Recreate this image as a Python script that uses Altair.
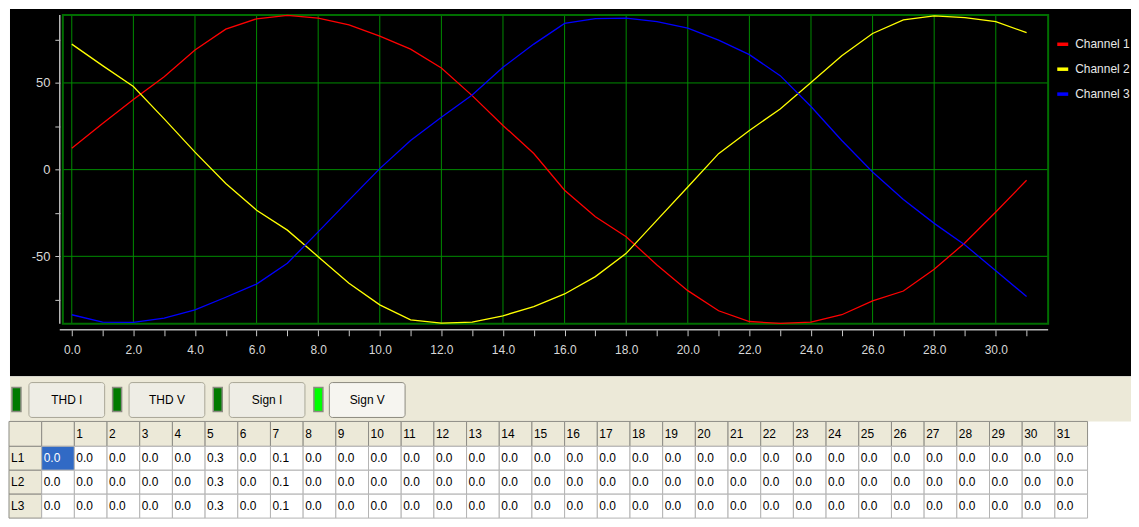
import altair as alt
import pandas as pd

# ---------------- data ----------------
harmonics = list(range(32))
channel_names = ["Channel 1", "Channel 2", "Channel 3"]
channel_colors = ["#FF0000", "#FFFF00", "#0000FF"]

channel_1 = [12.4, 26.6, 40.4, 53.6, 69.0, 81.0, 87.0, 89.0, 87.4, 83.5, 77.0, 69.5,
             58.6, 42.7, 25.5, 9.3, -11.9, -27.2, -38.7, -55.0, -69.8, -81.4, -87.6,
             -88.7, -88.0, -83.7, -75.7, -70.0, -57.5, -42.2, -24.4, -6.1]
channel_2 = [72.4, 60.0, 47.9, 29.3, 10.1, -8.0, -23.4, -34.9, -50.2, -65.5, -78.0, -86.6,
             -88.5, -88.0, -84.3, -79.0, -71.7, -61.7, -48.3, -29.1, -10.0, 9.2, 22.6,
             35.0, 50.3, 65.7, 78.5, 86.4, 88.7, 87.7, 85.4, 79.0]
channel_3 = [-83.7, -88.0, -88.1, -85.6, -80.9, -73.6, -66.0, -54.0, -35.9, -17.6, 0.6, 16.8,
             30.2, 43.0, 59.0, 72.4, 84.3, 87.1, 87.4, 85.4, 81.6, 74.7, 66.3,
             54.2, 36.4, 16.8, -1.4, -17.2, -31.0, -43.5, -58.3, -73.2]

x_grid = [0, 2, 4, 6, 8, 10, 12, 14, 16, 18, 20, 22, 24, 26, 28, 30]
y_grid = [-50, 0, 50]
y_ticks = [-75, -50, -25, 0, 25, 50, 75]

button_labels = ["THD I", "THD V", "Sign I", "Sign V"]
button_on = [False, False, False, True]

row_labels = ["L1", "L2", "L3"]
thd_L1 = [0.0, 0.0, 0.0, 0.0, 0.0, 0.3, 0.0, 0.1, 0.0, 0.0, 0.0, 0.0, 0.0, 0.0, 0.0, 0.0,
          0.0, 0.0, 0.0, 0.0, 0.0, 0.0, 0.0, 0.0, 0.0, 0.0, 0.0, 0.0, 0.0, 0.0, 0.0, 0.0]
thd_L2 = [0.0, 0.0, 0.0, 0.0, 0.0, 0.3, 0.0, 0.1, 0.0, 0.0, 0.0, 0.0, 0.0, 0.0, 0.0, 0.0,
          0.0, 0.0, 0.0, 0.0, 0.0, 0.0, 0.0, 0.0, 0.0, 0.0, 0.0, 0.0, 0.0, 0.0, 0.0, 0.0]
thd_L3 = [0.0, 0.0, 0.0, 0.0, 0.0, 0.3, 0.0, 0.1, 0.0, 0.0, 0.0, 0.0, 0.0, 0.0, 0.0, 0.0,
          0.0, 0.0, 0.0, 0.0, 0.0, 0.0, 0.0, 0.0, 0.0, 0.0, 0.0, 0.0, 0.0, 0.0, 0.0, 0.0]

# ---------------- layout / style ----------------
FONT = "Liberation Sans, Arial, sans-serif"
W = 1125
H_TOP = 369
H_BOT = 142

X_DOM = [-2.006, 34.39]
Y_DOM = [-119.37, 92.70]
FX0, FX1, FY0, FY1 = -0.29, 31.70, -88.91, 89.25   # plot frame
AX_X = -0.39      # y-axis line position
AX_Y = -92.36     # x-axis line position

xs = alt.Scale(domain=X_DOM, nice=False, zero=False)
ys = alt.Scale(domain=Y_DOM, nice=False, zero=False)

X_AX = alt.Axis(values=harmonics, title=None, domain=False, grid=False,
                labelExpr="datum.value % 2 == 0 ? format(datum.value, '.1f') : ''",
                tickColor="#C8C8C8", tickSize=6, labelColor="#D8D8D8",
                labelFont=FONT, labelFontSize=12, labelPadding=9,
                labelOverlap=False, labelFlush=False, offset=-47, orient="bottom")
Y_AX = alt.Axis(values=y_ticks, title=None, domain=False, grid=False,
                labelExpr="datum.value % 50 == 0 ? '' + datum.value : ''",
                tickColor="#C8C8C8", tickSize=5, labelColor="#D8D8D8",
                labelFont=FONT, labelFontSize=13, labelPadding=5,
                labelOverlap=False, labelFlush=False, offset=-50, orient="left")

# ---------------- top panel ----------------
vgrid = pd.DataFrame({"x": x_grid, "y0": FY0, "y1": FY1})
hgrid = pd.DataFrame({"y": y_grid, "x0": FX0, "x1": FX1})
frame = pd.DataFrame({"x0": [FX0], "x1": [FX1], "y0": [FY0], "y1": [FY1]})
axis_lines = pd.DataFrame({"x0": [AX_X, AX_X], "x1": [FX1, AX_X],
                           "y0": [AX_Y, FY0], "y1": [AX_Y, FY1]})

rows = []
for name, vals in zip(channel_names, [channel_1, channel_2, channel_3]):
    for h, v in zip(harmonics, vals):
        rows.append({"x": h, "value": v, "channel": name})
lines_df = pd.DataFrame(rows)

vgrid_l = alt.Chart(vgrid).mark_rule(color="#008C00", strokeWidth=1).encode(
    x=alt.X("x:Q", scale=xs, axis=X_AX),
    y=alt.Y("y0:Q", scale=ys, axis=Y_AX), y2="y1:Q")
hgrid_l = alt.Chart(hgrid).mark_rule(color="#008C00", strokeWidth=1).encode(
    x=alt.X("x0:Q", scale=xs, axis=X_AX), x2="x1:Q",
    y=alt.Y("y:Q", scale=ys, axis=Y_AX))
frame_l = alt.Chart(frame).mark_rect(fillOpacity=0, stroke="#006E00", strokeWidth=2).encode(
    x=alt.X("x0:Q", scale=xs, axis=X_AX), x2="x1:Q",
    y=alt.Y("y0:Q", scale=ys, axis=Y_AX), y2="y1:Q")
axl_l = alt.Chart(axis_lines).mark_rule(color="#B8B8B8", strokeWidth=1.5).encode(
    x=alt.X("x0:Q", scale=xs, axis=X_AX), x2="x1:Q",
    y=alt.Y("y0:Q", scale=ys, axis=Y_AX), y2="y1:Q")
lines_l = alt.Chart(lines_df).mark_line(strokeWidth=1.3).encode(
    x=alt.X("x:Q", scale=xs, axis=X_AX),
    y=alt.Y("value:Q", scale=ys, axis=Y_AX),
    color=alt.Color("channel:N",
                    scale=alt.Scale(domain=channel_names, range=channel_colors),
                    legend=alt.Legend(orient="none", legendX=1049, legendY=28, title=None,
                                      symbolType="stroke", symbolStrokeWidth=3.5,
                                      symbolSize=121, labelFontSize=12,
                                      labelColor="#E8E8E8", labelFont=FONT,
                                      rowPadding=10, labelOffset=5, padding=0)),
    order="x:Q")

top = alt.layer(vgrid_l, hgrid_l, frame_l, axl_l, lines_l).properties(
    width=W, height=H_TOP, view=alt.ViewBackground(fill="black", stroke=None))

# ---------------- bottom panel (buttons + table) ----------------
BAND_H = 45
COL_W = 32.8
TABLE_X = -1.0
HEAD_Y0, HEAD_Y1 = 45, 70
ROW_H = 24

xb = alt.Scale(domain=[0, W], nice=False, zero=False)
yb = alt.Scale(domain=[0, H_BOT], nice=False, zero=False, reverse=True)

band = pd.DataFrame({"x0": [0], "x1": [W], "y0": [0], "y1": [BAND_H]})

btn = []
for i, (lab, on) in enumerate(zip(button_labels, button_on)):
    bx0 = 19 + 100.5 * i
    ix0 = 2 + 101 * i
    btn.append({"label": lab,
                "ix0": ix0, "ix1": ix0 + 9, "iy0": 11, "iy1": 35,
                "ifill": "#00FF00" if on else "#007A00",
                "bx0": bx0, "bx1": bx0 + 76, "by0": 6, "by1": 41,
                "bfill": "#F6F5F0" if on else "#EEEDE5",
                "bstroke": "#8C8A7E" if on else "#A9A797",
                "tx": bx0 + 38, "ty": 23.5})
btn_df = pd.DataFrame(btn)

column_headers = ["" if h == 0 else str(h) for h in harmonics]
cells = []
# header row
for c in range(33):
    x0 = TABLE_X + c * COL_W
    cells.append({"x0": x0, "x1": x0 + COL_W, "y0": HEAD_Y0, "y1": HEAD_Y1,
                  "fill": "#ECE9D8", "stroke": "#8E8D86",
                  "text": "" if c == 0 else column_headers[c - 1], "tcolor": "#000000"})
for r, (lab, vals) in enumerate(zip(row_labels, [thd_L1, thd_L2, thd_L3])):
    y0 = HEAD_Y1 + r * ROW_H
    cells.append({"x0": TABLE_X, "x1": TABLE_X + COL_W, "y0": y0, "y1": y0 + ROW_H,
                  "fill": "#ECE9D8", "stroke": "#8E8D86", "text": lab, "tcolor": "#000000"})
    for h, v in zip(harmonics, vals):
        x0 = TABLE_X + (h + 1) * COL_W
        sel = (r == 0 and h == 0)
        cells.append({"x0": x0, "x1": x0 + COL_W, "y0": y0, "y1": y0 + ROW_H,
                      "fill": "#316AC5" if sel else "#FFFFFF", "stroke": "#B4B4B4",
                      "text": f"{v:.1f}", "tcolor": "#FFFFFF" if sel else "#000000"})
cells_df = pd.DataFrame(cells)
cells_df["tx"] = cells_df["x0"] + 2
cells_df["ty"] = (cells_df["y0"] + cells_df["y1"]) / 2

band_l = alt.Chart(band).mark_rect(color="#ECE9D8").encode(
    x=alt.X("x0:Q", scale=xb, axis=None), x2="x1:Q",
    y=alt.Y("y0:Q", scale=yb, axis=None), y2="y1:Q")
ind_l = alt.Chart(btn_df).mark_rect(stroke="#8A8A80", strokeWidth=1.5).encode(
    x=alt.X("ix0:Q", scale=xb, axis=None), x2="ix1:Q",
    y=alt.Y("iy0:Q", scale=yb, axis=None), y2="iy1:Q",
    fill=alt.Fill("ifill:N", scale=None))
btn_l = alt.Chart(btn_df).mark_rect(strokeWidth=1, cornerRadius=3).encode(
    x=alt.X("bx0:Q", scale=xb, axis=None), x2="bx1:Q",
    y=alt.Y("by0:Q", scale=yb, axis=None), y2="by1:Q",
    fill=alt.Fill("bfill:N", scale=None),
    stroke=alt.Stroke("bstroke:N", scale=None))
btn_t = alt.Chart(btn_df).mark_text(font=FONT, fontSize=12, color="#000000",
                                    align="center", baseline="middle").encode(
    x=alt.X("tx:Q", scale=xb, axis=None),
    y=alt.Y("ty:Q", scale=yb, axis=None),
    text="label:N")
cell_l = alt.Chart(cells_df).mark_rect(strokeWidth=1).encode(
    x=alt.X("x0:Q", scale=xb, axis=None), x2="x1:Q",
    y=alt.Y("y0:Q", scale=yb, axis=None), y2="y1:Q",
    fill=alt.Fill("fill:N", scale=None),
    stroke=alt.Stroke("stroke:N", scale=None))
cell_t = alt.Chart(cells_df).mark_text(font=FONT, fontSize=12, align="left",
                                       baseline="middle").encode(
    x=alt.X("tx:Q", scale=xb, axis=None),
    y=alt.Y("ty:Q", scale=yb, axis=None),
    text="text:N",
    color=alt.Color("tcolor:N", scale=None))

bottom = alt.layer(band_l, ind_l, btn_l, btn_t, cell_l, cell_t).properties(
    width=W, height=H_BOT, view=alt.ViewBackground(fill="white", stroke=None))

chart = alt.vconcat(top, bottom, spacing=0).properties(
    padding=0, background="white"
).configure_view(stroke=None)

chart.save("out.html", embed_options={"renderer": "svg", "actions": False})
